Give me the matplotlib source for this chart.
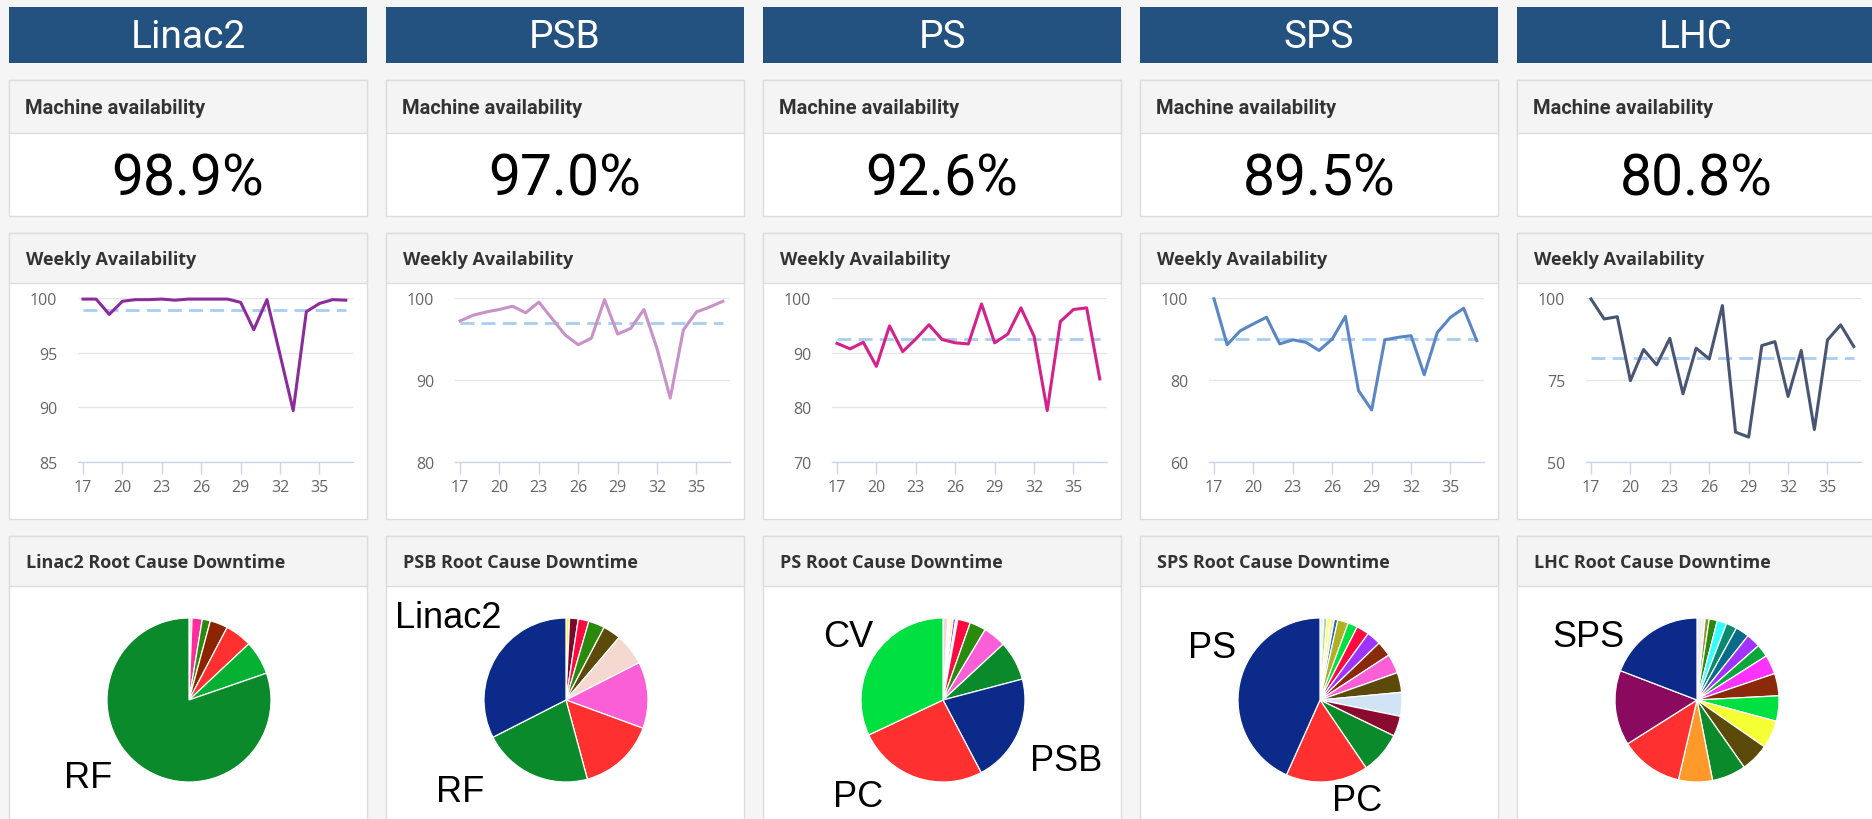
import matplotlib
matplotlib.use('Agg')
import matplotlib.pyplot as plt
from matplotlib.patches import Rectangle
from matplotlib import font_manager as fm

# ---------------- data ----------------
machines = ['Linac2', 'PSB', 'PS', 'SPS', 'LHC']
availability = [98.9, 97.0, 92.6, 89.5, 80.8]
weekly_mean_line = [98.9, 96.9, 92.5, 89.9, 81.6]
weeks = list(range(17, 38))
x_ticks = [17, 20, 23, 26, 29, 32, 35]

linac2_weekly = [99.9, 99.9, 98.5, 99.7, 99.85, 99.85, 99.9, 99.8, 99.9, 99.9, 99.9,
                 99.9, 99.6, 97.1, 99.85, 94.8, 89.7, 98.75, 99.5, 99.85, 99.8]
psb_weekly = [97.2, 97.9, 98.3, 98.6, 99.0, 98.2, 99.5, 97.5, 95.5, 94.3, 95.1,
              99.8, 95.6, 96.3, 98.6, 93.8, 87.8, 96.1, 98.3, 98.9, 99.6]
ps_weekly = [91.7, 90.7, 91.9, 87.5, 94.9, 90.2, 92.5, 95.1, 92.4, 91.8, 91.6,
             98.9, 91.8, 93.4, 98.2, 93.0, 79.4, 95.7, 97.9, 98.2, 85.2]
sps_weekly = [99.8, 88.6, 92.0, 93.7, 95.3, 88.8, 89.8, 89.2, 87.2, 90.0, 95.5,
              77.4, 72.7, 89.8, 90.4, 90.8, 81.3, 91.6, 95.3, 97.5, 89.6]
lhc_weekly = [99.7, 93.6, 94.3, 74.8, 84.3, 79.6, 87.7, 70.8, 84.7, 81.4, 97.7,
              59.1, 57.6, 85.5, 86.7, 70.0, 84.0, 59.9, 87.2, 91.8, 85.2]
weekly = [linac2_weekly, psb_weekly, ps_weekly, sps_weekly, lhc_weekly]

y_ranges = [(85, 100), (80, 100), (70, 100), (60, 100), (50, 100)]
y_ticks = [[85, 90, 95, 100], [80, 90, 100], [70, 80, 90, 100], [60, 80, 100], [50, 75, 100]]

# root-cause downtime shares (%), clockwise from 12 o'clock
linac2_pie = [0.6, 2.0, 1.6, 3.5, 5.3, 6.7, 80.3]
linac2_pie_names = ['', '', '', '', '', '', 'RF']
psb_pie = [0.7, 1.7, 2.1, 3.2, 3.5, 6.3, 13.1, 15.2, 21.7, 32.5]
psb_pie_names = ['', '', '', '', '', '', '', '', 'RF', 'Linac2']
ps_pie = [1.0, 0.5, 0.5, 0.5, 0.4, 2.5, 3.2, 4.5, 7.8, 21.4, 25.7, 32.0]
ps_pie_names = ['', '', '', '', '', '', '', '', '', 'PSB', 'PC', 'CV']
sps_pie = [0.7, 0.7, 0.7, 0.7, 0.7, 2.1, 1.9, 2.5, 2.8, 3.0, 3.8, 3.9, 4.7, 4.0, 8.3, 16.2, 43.3]
sps_pie_names = [''] * 15 + ['PC', 'PS']
lhc_pie = [1.6, 0.8, 1.6, 1.9, 2.1, 2.7, 2.8, 2.5, 3.8, 4.4, 5.0, 5.5, 5.6, 6.7, 6.7, 12.4, 14.8, 19.2]
lhc_pie_names = [''] * 17 + ['SPS']
pies = [linac2_pie, psb_pie, ps_pie, sps_pie, lhc_pie]
pie_names = [linac2_pie_names, psb_pie_names, ps_pie_names, sps_pie_names, lhc_pie_names]

# ---------------- styles ----------------
line_colors = ['#8b2c9c', '#c891c8', '#d4218b', '#5a86c5', '#485673']
pie_colors = [
    ['#f7e0ea', '#ff2d9b', '#2a8a0e', '#8b2500', '#ff3030', '#06b032', '#0a8a2a'],
    ['#ffff33', '#7a0a2a', '#ff0a40', '#2a8a0e', '#5c4a0a', '#f5d9d0', '#fb5fd7',
     '#ff3030', '#0a8a2a', '#0b2a8a'],
    ['#f8d8e0', '#ffffff', '#ffff66', '#a033ff', '#f0f0ff', '#ff0a40', '#2a8a0e',
     '#fb5fd7', '#0a8a2a', '#0b2a8a', '#ff3030', '#00e040'],
    ['#f0f0f0', '#a0e0a0', '#ffff66', '#f0f0a0', '#1a6aaa', '#b0b020', '#00e040',
     '#ff0a40', '#a033ff', '#8b2a0a', '#fb5fd7', '#5c4a0a', '#d0e4f5', '#8a0a30',
     '#0a8a2a', '#ff3030', '#0b2a8a'],
    ['#f2eef6', '#8a9a20', '#2a8a0e', '#33ffff', '#0a8a70', '#0a6a8a', '#a033ff',
     '#0aa83a', '#ff33ff', '#8b2a0a', '#00e040', '#f5ff33', '#5c4a0a', '#0a8a2a',
     '#ff9a2a', '#ff3030', '#8a0a60', '#0b2a8a'],
]
# label offsets (px) relative to pie centre: (dx, baseline dy)
label_pos = {
    0: {'RF': (-101, 87)},
    1: {'Linac2': (-118, -73), 'RF': (-106, 101)},
    2: {'CV': (-95, -54), 'PC': (-85, 106), 'PSB': (123, 70)},
    3: {'PS': (-108, -43), 'PC': (37, 110)},
    4: {'SPS': (-109, -54)},
}

names = {f.name for f in fm.fontManager.ttflist}
def pick(cands, default):
    for c in cands:
        if c in names:
            return c
    return default

HEAD = pick(['Roboto', 'Open Sans', 'Noto Sans', 'DejaVu Sans'], 'DejaVu Sans')
UI = pick(['Open Sans', 'Noto Sans', 'Lato', 'DejaVu Sans'], 'DejaVu Sans')
ARIAL = pick(['Liberation Sans', 'Arimo', 'DejaVu Sans'], 'DejaVu Sans')

W, H, DPI = 1872, 820, 100
fig = plt.figure(figsize=(W / DPI, H / DPI), dpi=DPI)
fig.patch.set_facecolor('#f5f5f5')

bg = fig.add_axes([0, 0, 1, 1])
bg.set_xlim(0, W)
bg.set_ylim(H, 0)
bg.axis('off')


def frac(x0, y0, w, h):
    return [x0 / W, 1 - (y0 + h) / H, w / W, h / H]


def box(x0, y0, w, h, strip):
    bg.add_patch(Rectangle((x0, y0), w, h, facecolor='white', edgecolor='#dcdcdc', lw=1))
    bg.add_patch(Rectangle((x0, y0), w, strip, facecolor='#f4f4f4', edgecolor='#dcdcdc', lw=1))


PW, PITCH, X0 = 358, 377, 9
label_texts = []
for i, m in enumerate(machines):
    left = X0 + PITCH * i
    cx = left + PW / 2
    # header
    bg.add_patch(Rectangle((left, 8), PW, 56, facecolor='#235180', edgecolor='none'))
    bg.text(cx, 38, m, color='white', fontsize=28, family=HEAD,
            ha='center', va='center')
    # machine availability
    box(left, 81, PW, 136, 53)
    bg.text(left + 16, 108, 'Machine availability', fontsize=14.5, family=HEAD,
            fontweight='bold', color='#333333', ha='left', va='center')
    bg.text(cx, 180, f'{availability[i]:.1f}%', fontsize=41, family=HEAD,
            color='black', ha='center', va='center')
    # weekly availability
    box(left, 234, PW, 286, 50)
    bg.text(left + 17, 260, 'Weekly Availability', fontsize=13, family=UI,
            fontweight='bold', color='#333333', ha='left', va='center')
    # pie box
    box(left, 537, PW, 320, 50)
    bg.text(left + 17, 563, f'{m} Root Cause Downtime', fontsize=13, family=UI,
            fontweight='bold', color='#333333', ha='left', va='center')

    # line chart
    ax = fig.add_axes(frac(left + 69, 299, 275, 164))
    ax.set_facecolor('none')
    ax.plot(weeks, weekly[i], color=line_colors[i], lw=2.2, solid_joinstyle='round',
            clip_on=False, zorder=3)
    ax.plot([weeks[0], weeks[-1]], [weekly_mean_line[i]] * 2, color='#a9cdf2', lw=2,
            dashes=(5, 2.6), zorder=2)
    ax.set_xlim(16.62, 37.55)
    ax.set_ylim(*y_ranges[i])
    ax.set_yticks(y_ticks[i])
    ax.set_xticks(x_ticks)
    ax.grid(axis='y', color='#e6e6e6', lw=1)
    ax.set_axisbelow(True)
    for s in ['top', 'right', 'left']:
        ax.spines[s].set_visible(False)
    ax.spines['bottom'].set_color('#ccd6eb')
    ax.spines['bottom'].set_linewidth(1)
    ax.tick_params(axis='x', direction='out', length=8.5, width=1, color='#ccd6eb',
                   labelcolor='#666666', labelsize=11.5, pad=4)
    ax.tick_params(axis='y', length=0, labelcolor='#666666', labelsize=11.5, pad=15)
    for lab in ax.get_xticklabels() + ax.get_yticklabels():
        lab.set_family(UI)

    # pie chart
    pcx, pcy, r = left + 180, 701, 82
    S = 240
    pax = fig.add_axes(frac(pcx - S / 2, pcy - S / 2, S, S))
    pax.pie(pies[i], colors=pie_colors[i], startangle=90, counterclock=False,
            wedgeprops=dict(edgecolor='white', linewidth=0.9), radius=1)
    L = (S / 2) / r
    pax.set_xlim(-L, L)
    pax.set_ylim(-L, L)
    pax.set_aspect('equal')
    pax.axis('off')
    for nm in pie_names[i]:
        if nm in label_pos[i]:
            dx, dy = label_pos[i][nm]
            label_texts.append((pcx + dx, pcy + dy, nm))

# slice labels on a top overlay so they sit above the pies
top = fig.add_axes([0, 0, 1, 1])
top.set_xlim(0, W)
top.set_ylim(H, 0)
top.axis('off')
for x, y, nm in label_texts:
    top.text(x, y, nm, fontsize=26, family=ARIAL, color='black', ha='center', va='baseline')

fig.savefig('out.png', dpi=DPI, facecolor=fig.get_facecolor())
